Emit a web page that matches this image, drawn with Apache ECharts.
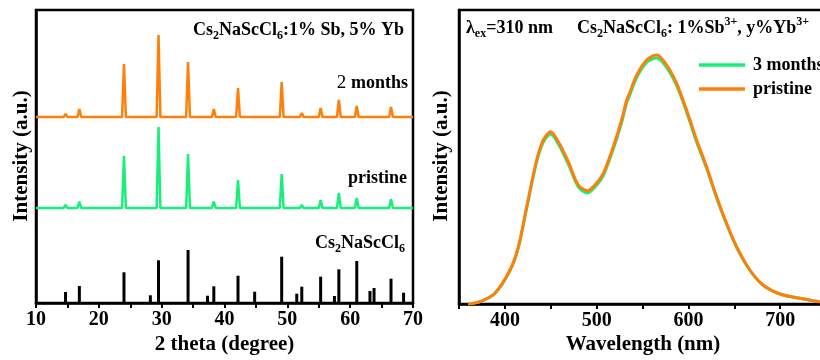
<!DOCTYPE html>
<html><head><meta charset="utf-8">
<script src="https://cdn.jsdelivr.net/npm/echarts@6/dist/echarts.min.js"></script>
<style>html,body{margin:0;padding:0;background:#fff}#c{width:820px;height:360px}</style>
</head><body><div id="c"></div>
<script>
// ---- XRD (left panel) ----
const xrdPeakPositions = [14.7, 16.9, 24.0, 29.5, 34.2, 38.3, 42.15, 44.8, 49.1, 52.3, 55.3, 58.2, 61.05, 66.5];
const aged2mBaseline = 186;
const aged2mPeakHeights = [189, 194, 239, 268, 241, 194, 215, 188, 221, 190, 195, 203, 197, 196];
const pristineXrdBaseline = 95;
const pristineXrdPeakHeights = [98, 101.5, 147, 176, 149, 101.5, 123, 96, 129, 98, 103, 110, 105, 104];
const refPositions = [14.7, 16.9, 24.0, 28.2, 29.5, 34.2, 37.3, 38.3, 42.15, 44.8, 49.1, 51.5, 52.3, 55.3, 57.5, 58.2, 61.05, 63.15, 63.8, 66.5, 68.5];
const refHeights = [11, 17, 30.7, 7.7, 42.7, 53, 7.3, 16.7, 27.3, 11.3, 46.3, 9.3, 16.3, 26.3, 7, 33.7, 42, 12, 15, 24.3, 10.3];

// ---- PL (right panel) ----
const plWavelength = [360,373,389,405.6,414.6,423.7,434.6,441.9,449.9,458.2,469.1,480,490.2,498.1,507.2,518.1,527.2,532.7,536.3,543.6,554.5,565.4,576.3,587.1,598,608.9,619.8,630.7,641.6,652.5,667,681.5,699.7,721.5,743.2,770,800];
const plPristine = [0,2.3,10.7,34,57,97,144,164,172.3,162.3,142.3,119,113.3,119,130.7,157.3,184,204,212,229,244,249,239,220.7,194,164,137.3,107.3,80.7,57.3,34,19,10,5.7,2.3,1.2,0.5];
const pl3Months = [0,2.3,10.5,33.5,56,95.5,142,162,170,160,140,117,111,117,128.5,155,181.5,201.5,209.5,226.5,241.5,246,236.5,218.5,192,162,135.5,106,79.5,56.5,33.5,18.5,10,5.7,2.3,1.2,0.5];

const FONT = 'Liberation Serif';
const ORANGE = '#ff7f0a';
const GREEN = '#1aee7a';

function trace(base, heights) {
  const pts = [[10, base]];
  xrdPeakPositions.forEach((p, i) => {
    pts.push([p - 0.3, base], [p, heights[i]], [p + 0.3, base]);
  });
  pts.push([70, base]);
  return pts;
}
function pairs(xs, ys) { return xs.map((x, i) => [x, ys[i]]); }

const rich = {
  n: {fontFamily: FONT, fontWeight: 'bold', fontSize: 18, lineHeight: 24, color: '#000'},
  r: {fontFamily: FONT, fontWeight: 'normal', fontSize: 19, lineHeight: 24, color: '#000'},
  sub: {fontFamily: FONT, fontWeight: 'bold', fontSize: 12, lineHeight: 12, verticalAlign: 'bottom', color: '#000'},
  sup: {fontFamily: FONT, fontWeight: 'bold', fontSize: 12, lineHeight: 12, verticalAlign: 'top', color: '#000'}
};
function label(text, x, y, align) {
  return {type: 'text', x: x, y: y, z: 100,
    style: {text: text, rich: rich, align: align, verticalAlign: 'middle', fontFamily: FONT, fontWeight: 'bold', fontSize: 18, fill: '#000'}};
}
function title(text, x, y, rot) {
  return {type: 'text', x: x, y: y, rotation: rot || 0, z: 100,
    style: {text: text, align: 'center', verticalAlign: 'middle', fontFamily: FONT, fontWeight: 'bold', fontSize: 21, fill: '#000'}};
}

const axisLine = {show: true, onZero: false, lineStyle: {color: '#000', width: 2.5}};
const tickLabel = {fontFamily: FONT, fontWeight: 'bold', fontSize: 20, color: '#000', margin: 7};

const chart = echarts.init(document.getElementById('c'), null, {renderer: 'canvas'});
chart.setOption({
  backgroundColor: '#fff',
  animation: false,
  grid: [
    {left: 36, top: 10, width: 377, height: 293, show: true, borderColor: '#000', borderWidth: 2.5, backgroundColor: 'transparent', containLabel: false, outerBoundsMode: 'none'},
    {left: 459, top: 10, width: 413, height: 294, show: true, borderColor: '#000', borderWidth: 2.5, backgroundColor: 'transparent', containLabel: false, outerBoundsMode: 'none'}
  ],
  xAxis: [
    {type: 'value', gridIndex: 0, min: 10, max: 70, interval: 5, axisLine: axisLine,
     axisTick: {show: true, length: 5, lineStyle: {color: '#000', width: 2}},
     axisLabel: Object.assign({}, tickLabel, {formatter: v => (v % 10 === 0 ? String(v) : '')}),
     splitLine: {show: false}},
    {type: 'value', gridIndex: 1, min: 350, max: 800, interval: 50, axisLine: axisLine,
     axisTick: {show: true, length: 5, lineStyle: {color: '#000', width: 2}},
     axisLabel: Object.assign({}, tickLabel, {formatter: v => (v % 100 === 0 ? String(v) : '')}),
     splitLine: {show: false}}
  ],
  yAxis: [
    {type: 'value', gridIndex: 0, min: 0, max: 293, axisLine: axisLine, axisTick: {show: false}, axisLabel: {show: false}, splitLine: {show: false}},
    {type: 'value', gridIndex: 1, min: 0, max: 294, axisLine: axisLine, axisTick: {show: false}, axisLabel: {show: false}, splitLine: {show: false}}
  ],
  legend: {
    left: 694, top: 51, orient: 'vertical', itemWidth: 46, itemHeight: 3.5, itemGap: 6, icon: 'rect',
    textStyle: {fontFamily: FONT, fontWeight: 'bold', fontSize: 18, color: '#000', lineHeight: 18, padding: [0, 0, 0, 3]},
    data: ['3 months', 'pristine']
  },
  series: [
    {name: '2 months', type: 'line', xAxisIndex: 0, yAxisIndex: 0, data: trace(aged2mBaseline, aged2mPeakHeights),
     showSymbol: false, symbol: 'none', lineStyle: {color: ORANGE, width: 2.5}, itemStyle: {color: ORANGE}},
    {name: 'pristine XRD', type: 'line', xAxisIndex: 0, yAxisIndex: 0, data: trace(pristineXrdBaseline, pristineXrdPeakHeights),
     showSymbol: false, symbol: 'none', lineStyle: {color: GREEN, width: 2.5}, itemStyle: {color: GREEN}},
    {name: 'Cs2NaScCl6', type: 'bar', xAxisIndex: 0, yAxisIndex: 0, barWidth: 3, data: pairs(refPositions, refHeights),
     itemStyle: {color: '#000'}},
    {name: '3 months', type: 'line', xAxisIndex: 1, yAxisIndex: 1, data: pairs(plWavelength, pl3Months), smooth: 0.3,
     showSymbol: false, symbol: 'none', lineStyle: {color: GREEN, width: 3}, itemStyle: {color: GREEN}},
    {name: 'pristine', type: 'line', xAxisIndex: 1, yAxisIndex: 1, data: pairs(plWavelength, plPristine), smooth: 0.3,
     showSymbol: false, symbol: 'none', lineStyle: {color: ORANGE, width: 3}, itemStyle: {color: ORANGE}}
  ],
  graphic: [
    label('{n|Cs}{sub|2}{n|NaScCl}{sub|6}{n|:1% Sb, 5% Yb}', 404, 30, 'right'),
    label('{r|2 }{n|months}', 408, 83, 'right'),
    label('{n|pristine}', 407, 178, 'right'),
    label('{n|Cs}{sub|2}{n|NaScCl}{sub|6}', 405, 243, 'right'),
    label('{n|λ}{sub|ex}{n|=310 nm}', 466, 28, 'left'),
    label('{n|Cs}{sub|2}{n|NaScCl}{sub|6}{n|: 1%Sb}{sup|3+}{n|, y%Yb}{sup|3+}', 577, 28, 'left'),
    title('2 theta (degree)', 224.5, 345),
    title('Wavelength (nm)', 643, 345),
    title('Intensity (a.u.)', 22, 156, Math.PI / 2),
    title('Intensity (a.u.)', 442, 156, Math.PI / 2)
  ]
});
</script></body></html>
